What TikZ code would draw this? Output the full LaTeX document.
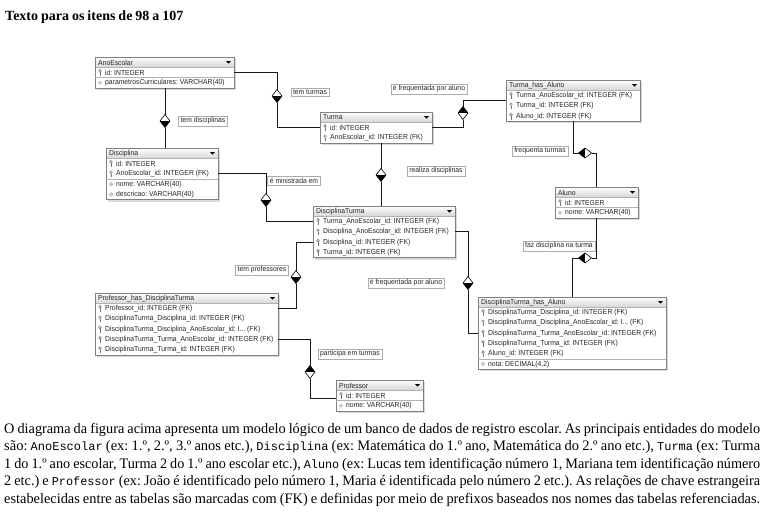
\documentclass[tikz,border=0pt]{standalone}
\usepackage{fontspec}
\setmainfont[WordSpace=0.85]{Liberation Serif}
\setmonofont{Liberation Mono}
\newfontfamily\tabfont[FakeStretch=0.93]{Liberation Sans}
\usetikzlibrary{calc}
\frenchspacing
\definecolor{tblborder}{gray}{0.5}
\definecolor{hdrgray}{gray}{0.84}
\definecolor{keyc}{gray}{0.45}
\definecolor{keyfill}{gray}{0.85}
\newsavebox\fitbox
\newcommand\fitline[2]{\sbox\fitbox{#2}\ifdim\wd\fitbox>#1\relax\resizebox{#1}{\height}{\usebox\fitbox}\else\makebox[#1][s]{#2}\fi}
\newcommand\code[1]{{\ttfamily\fontsize{12}{12}\selectfont #1}}
\def\rh{10.3}
\newcommand\dbiconk[2]{%
  \draw[keyc, line width=0.45pt, fill=keyfill] (#1,#2-1.5) circle (1.4pt);
  \draw[keyc, line width=0.6pt] (#1,#2-0.1) -- (#1,#2+3.0) (#1,#2+1.7) -- (#1+1.1,#2+1.7) (#1,#2+2.8) -- (#1+1.1,#2+2.8);}
\newcommand\dbiconn[2]{%
  \draw[gray!75, line width=0.4pt, fill=gray!35] (#1,#2) circle (1.7pt);
  \fill[white] (#1,#2) circle (0.6pt);}
\newcommand\dbiconm[2]{%
  \draw[gray!60, line width=0.4pt] (\tx,#2-\rh/2) -- (\tx+\tw,#2-\rh/2);
  \dbiconn{#1}{#2}}
\newcommand\dbtable[7]{%
  \pgfmathsetmacro\tbh{(#5+1)*\rh}%
  \def\tx{#2}\def\tw{#4}%
  \fill[gray!30] (#2+2,#3+2) rectangle (#2+#4+2,#3+\tbh+2);
  \node[fill=white, minimum width=#4pt, minimum height=\tbh pt, anchor=north west, inner sep=0pt, outer sep=0pt] (#1) at (#2,#3) {};
  \shade[top color=white, bottom color=hdrgray] (#2,#3) rectangle (#2+#4,#3+\rh);
  \draw[gray!60, line width=0.4pt] (#2,#3+\rh) -- (#2+#4,#3+\rh);
  \draw[tblborder, line width=0.6pt] (#1.north west) rectangle (#1.south east);
  \node[tabtext, anchor=west] (#1-h) at (#2+3,#3+\rh/2+0.3) {#6};
  \fill[black] (#2+#4-8,#3+\rh/2-1) -- (#2+#4-3,#3+\rh/2-1) -- (#2+#4-5.5,#3+\rh/2+1.5) -- cycle;
  \foreach[count=\i] \rt/\rs in {#7} {%
    \pgfmathsetmacro\yc{#3+(\i+0.5)*\rh}%
    \coordinate (#1-r\i) at (#2,\yc);
    \csname dbicon\rt\endcsname{#2+5}{\yc}
    \node[tabtext, anchor=west] (#1-t\i) at (#2+10,\yc+0.3) {\rs};
  }%
}
\newcommand\vdia[5]{%
  \node[inner sep=0pt, outer sep=0pt, minimum width=10pt, minimum height=13pt] (#1) at (#2,#3) {};
  \fill[#4] (#1.west) -- (#1.north) -- (#1.east) -- cycle;
  \fill[#5] (#1.west) -- (#1.south) -- (#1.east) -- cycle;
  \draw[black, line width=0.6pt] (#1.north) -- (#1.east) -- (#1.south) -- (#1.west) -- cycle;}
\newcommand\hdia[5]{%
  \node[inner sep=0pt, outer sep=0pt, minimum width=13pt, minimum height=10pt] (#1) at (#2,#3) {};
  \fill[#4] (#1.north) -- (#1.west) -- (#1.south) -- cycle;
  \fill[#5] (#1.north) -- (#1.east) -- (#1.south) -- cycle;
  \draw[black, line width=0.6pt] (#1.north) -- (#1.east) -- (#1.south) -- (#1.west) -- cycle;}
\begin{document}
\begin{tikzpicture}[x=1pt,y=-1pt,
  tabtext/.style={font=\tabfont\fontsize{7.3}{8}\selectfont, inner sep=0pt, text=black!85},
  lbl/.style={draw=gray!65, fill=white, line width=0.4pt, font=\tabfont\fontsize{7.3}{8}\selectfont, text=black!85, inner xsep=2.2pt, inner ysep=1.6pt},
  conn/.style={line width=0.7pt, black!90},
  foot/.style={anchor=base west, inner sep=0pt, font=\frenchspacing\fontsize{14.5}{17}\selectfont}]
\useasboundingbox (0,0) rectangle (764,523);
\node[anchor=base west, inner sep=0pt, font=\bfseries\fontsize{14}{17}\selectfont] (title) at (5,20) {Texto para os itens de 98 a 107};

% tables
\dbtable{ano}{95}{57}{139}{2}{AnoEscolar}{k/{id: INTEGER}, m/{parametrosCurriculares: VARCHAR(40)}}
\dbtable{turma}{320}{112}{112}{2}{Turma}{k/{id: INTEGER}, k/{AnoEscolar\_id: INTEGER (FK)}}
\dbtable{ta}{506}{80}{134}{3}{Turma\_has\_Aluno}{k/{Turma\_AnoEscolar\_id: INTEGER (FK)}, k/{Turma\_id: INTEGER (FK)}, k/{Aluno\_id: INTEGER (FK)}}
\dbtable{disc}{106}{148}{112}{4}{Disciplina}{k/{id: INTEGER}, k/{AnoEscolar\_id: INTEGER (FK)}, m/{nome: VARCHAR(40)}, n/{descricao: VARCHAR(40)}}
\dbtable{dt}{313}{206}{142}{4}{DisciplinaTurma}{k/{Turma\_AnoEscolar\_id: INTEGER (FK)}, k/{Disciplina\_AnoEscolar\_id: INTEGER (FK)}, k/{Disciplina\_id: INTEGER (FK)}, k/{Turma\_id: INTEGER (FK)}}
\dbtable{aluno}{555}{187}{83}{2}{Aluno}{k/{id: INTEGER}, m/{nome: VARCHAR(40)}}
\dbtable{phdt}{95}{293}{183}{5}{Professor\_has\_DisciplinaTurma}{k/{Professor\_id: INTEGER (FK)}, k/{DisciplinaTurma\_Disciplina\_id: INTEGER (FK)}, k/{DisciplinaTurma\_Disciplina\_AnoEscolar\_id: I... (FK)}, k/{DisciplinaTurma\_Turma\_AnoEscolar\_id: INTEGER (FK)}, k/{DisciplinaTurma\_Turma\_id: INTEGER (FK)}}
\dbtable{dtha}{478}{297}{188}{6}{DisciplinaTurma\_has\_Aluno}{k/{DisciplinaTurma\_Disciplina\_id: INTEGER (FK)}, k/{DisciplinaTurma\_Disciplina\_AnoEscolar\_id: I... (FK)}, k/{DisciplinaTurma\_Turma\_AnoEscolar\_id: INTEGER (FK)}, k/{DisciplinaTurma\_Turma\_id: INTEGER (FK)}, k/{Aluno\_id: INTEGER (FK)}, m/{nota: DECIMAL(4,2)}}
\dbtable{prof}{336}{380}{87}{2}{Professor}{k/{id: INTEGER}, m/{nome: VARCHAR(40)}}

% diamonds
\vdia{d1}{277}{96}{white}{black}
\vdia{d2}{165}{121}{white}{black}
\vdia{d3}{463}{113}{black}{white}
\vdia{d4}{266}{200}{white}{black}
\vdia{d5}{381}{175}{white}{black}
\hdia{d6}{585}{153}{black}{white}
\hdia{d7}{585}{258}{black}{white}
\vdia{d8}{296}{277}{white}{black}
\vdia{d9}{468}{283}{white}{black}
\vdia{d10}{310}{372}{black}{white}

% connectors
\draw[conn] (ano.east |- ano-r1) -| (d1.north);
\draw[conn] (d1.south) |- (turma.west |- turma-r1);
\draw[conn] (ano.south -| d2.north) -- (d2.north);
\draw[conn] (d2.south) -- (disc.north -| d2.south);
\draw[conn] (turma.east |- turma-r1) -| (d3.south);
\draw[conn] (d3.north) |- ($(ta.west |- ta-r1)!0.5!(ta.west |- ta-r2)$);
\draw[conn] (disc.east |- disc-r2) -| (d4.north);
\draw[conn] (d4.south) |- (dt.west |- dt-r1);
\draw[conn] (turma.south -| d5.north) -- (d5.north);
\draw[conn] (d5.south) -- (dt.north -| d5.south);
\draw[conn] (ta.south) |- (d6.west);
\draw[conn] (d6.east) -| (aluno.north);
\draw[conn] (aluno.south) |- (d7.east);
\draw[conn] (d7.west) -| (dtha.north);
\draw[conn] (dt.west |- dt-r3) -| (d8.north);
\draw[conn] (d8.south) |- (phdt.east |- phdt-r1);
\draw[conn] (dt.east |- dt-r2) -| (d9.north);
\draw[conn] (d9.south) |- (dtha.west |- dtha-r3);
\draw[conn] (phdt.east |- phdt-r4) -| (d10.north);
\draw[conn] (d10.south) |- ($(prof.west)+(0,3)$);

% labels
\node[lbl] (l1) at (310,92) {tem turmas};
\node[lbl] (l2) at (203,121) {tem disciplinas};
\node[lbl] (l3) at (429,89) {é frequentada por aluno};
\node[lbl] (l4) at (294,181) {é ministrada em};
\node[lbl] (l5) at (436,171) {realiza disciplinas};
\node[lbl] (l6) at (540,151) {frequenta turmas};
\node[lbl] (l7) at (559,246) {faz disciplina na turma};
\node[lbl] (l8) at (262,270) {tem professores};
\node[lbl] (l9) at (406,283) {é frequentada por aluno};
\node[lbl] (l10) at (350,354) {participa em turmas};

% footer text
\node[foot] (f1) at (4,433) {\fitline{756pt}{O diagrama da figura acima apresenta um modelo lógico de um banco de dados de registro escolar. As principais entidades do modelo}};
\node[foot] (f2) at (4,450.6) {\fitline{756pt}{são: \code{AnoEscolar} (ex: 1.º, 2.º, 3.º anos etc.), \code{Disciplina} (ex: Matemática do 1.º ano, Matemática do 2.º ano etc.), \code{Turma} (ex: Turma}};
\node[foot] (f3) at (4,468.2) {\fitline{756pt}{1 do 1.º ano escolar, Turma 2 do 1.º ano escolar etc.), \code{Aluno} (ex: Lucas tem identificação número 1, Mariana tem identificação número}};
\node[foot] (f4) at (4,485.8) {\fitline{756pt}{2 etc.) e \code{Professor} (ex: João é identificado pelo número 1, Maria é identificada pelo número 2 etc.). As relações de chave estrangeira}};
\node[foot] (f5) at (4,503.4) {\fitline{756pt}{estabelecidas entre as tabelas são marcadas com (FK) e definidas por meio de prefixos baseados nos nomes das tabelas referenciadas.}};
\end{tikzpicture}
\end{document}
